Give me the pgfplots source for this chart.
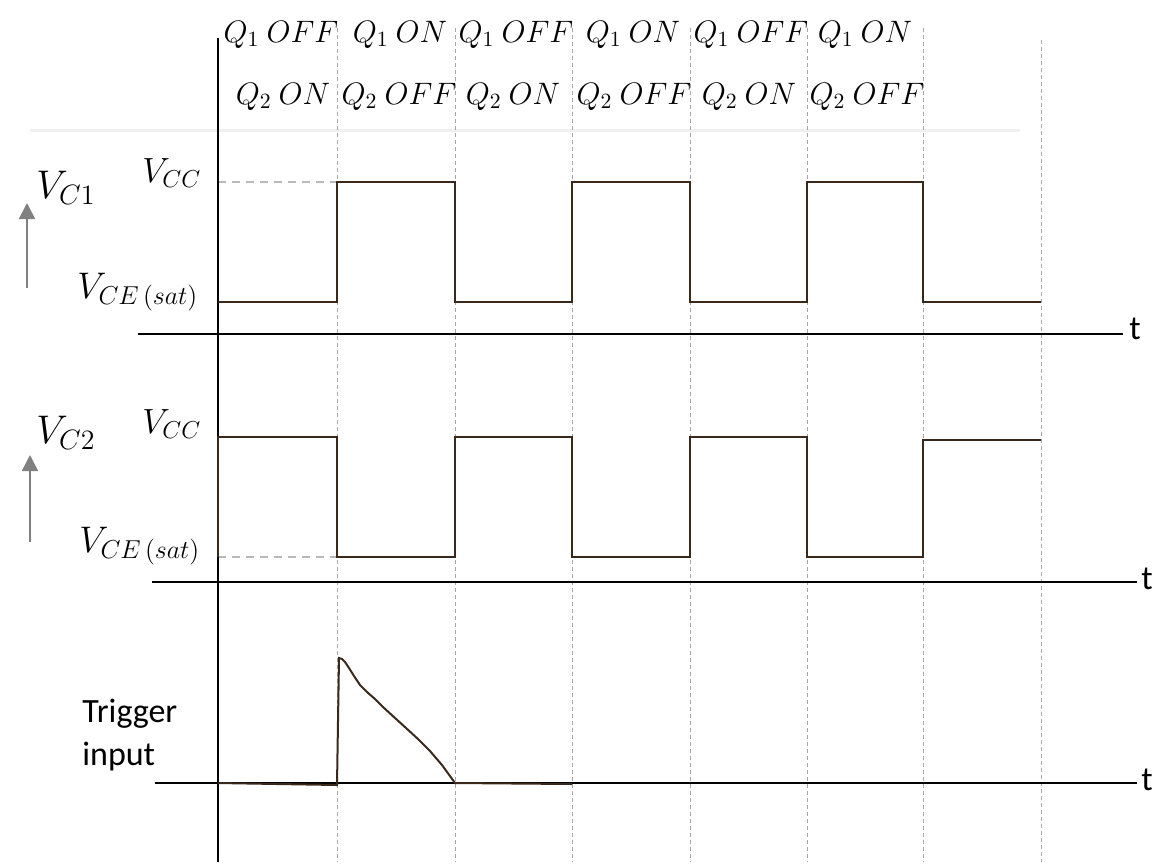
\RequirePackage{fix-cm}
\documentclass[border=0pt]{standalone}
\usepackage{fontspec}
\setmainfont{Carlito}
\usepackage{pgfplots}
\pgfplotsset{compat=1.18}
\usetikzlibrary{arrows.meta}
\definecolor{sig}{RGB}{58,40,26}
\begin{document}
\begin{tikzpicture}
\begin{axis}[scale only axis, width=579.5pt, height=433.5pt,
  xmin=0, xmax=1159, ymin=0, ymax=867, y dir=reverse, hide axis, clip=false]
\addplot[draw=none] coordinates {(0,0) (1159,867)};
% faint separator
\addplot[gray!12, line width=1.5pt] coordinates {(30,130) (1020,130)};
% dashed time markers
\addplot[gray!70, line width=0.5pt, dash pattern=on 2pt off 1.5pt] coordinates {(337,28) (337,862)};
\addplot[gray!70, line width=0.5pt, dash pattern=on 2pt off 1.5pt] coordinates {(455,28) (455,862)};
\addplot[gray!70, line width=0.5pt, dash pattern=on 2pt off 1.5pt] coordinates {(572,28) (572,862)};
\addplot[gray!70, line width=0.5pt, dash pattern=on 2pt off 1.5pt] coordinates {(690,28) (690,862)};
\addplot[gray!70, line width=0.5pt, dash pattern=on 2pt off 1.5pt] coordinates {(807,28) (807,862)};
\addplot[gray!70, line width=0.5pt, dash pattern=on 2pt off 1.5pt] coordinates {(923,28) (923,862)};
\addplot[gray!70, line width=0.5pt, dash pattern=on 2pt off 1.5pt] coordinates {(1041,40) (1041,862)};
% level guides
\addplot[gray!55, line width=0.7pt, dash pattern=on 4pt off 3pt] coordinates {(218,182) (337,182)};
\addplot[gray!55, line width=0.7pt, dash pattern=on 4pt off 3pt] coordinates {(218,557) (337,557)};
% axes
\addplot[black, line width=1.4pt] coordinates {(218,38) (218,862)};
\addplot[black, line width=0.9pt] coordinates {(138,334) (1123,334)};
\addplot[black, line width=0.9pt] coordinates {(152,582) (1137,582)};
\addplot[black, line width=0.9pt] coordinates {(155,783) (1137,783)};
% V_C1
\addplot[sig, line width=1pt] coordinates {(218,302) (337,302) (337,182) (455,182) (455,302) (572,302) (572,182) (690,182) (690,302) (807,302) (807,182) (923,182) (923,302) (1041,302)};
% V_C2
\addplot[sig, line width=1pt] coordinates {(218,557) (218,437) (337,437) (337,557) (455,557) (455,437) (572,437) (572,557) (690,557) (690,437) (807,437) (807,557) (923,557) (923,440) (1041,440)};
% trigger
\addplot[sig, line width=1pt] coordinates {(218,783) (337,785) (339,658) (342,659) (345,662) (349,668) (354,676) (360,685) (367,692) (375,699) (383,707) (395,718) (406,728) (418,739) (430,751) (442,765) (455,783) (572,784)};
% arrows
\addplot[gray, line width=0.8pt, -{Triangle[length=8pt,width=8pt]}] coordinates {(27,288) (27,203)};
\addplot[gray, line width=0.8pt, -{Triangle[length=8pt,width=8pt]}] coordinates {(30,542) (30,455)};
% state labels
\begin{scope}[every node/.style={anchor=base, inner sep=0pt, font=\fontsize{15.5}{17}\selectfont}]
\node at (axis cs:281,42) {$Q_1\ OFF$};
\node at (axis cs:400,42) {$Q_1\ ON$};
\node at (axis cs:516,42) {$Q_1\ OFF$};
\node at (axis cs:633,42) {$Q_1\ ON$};
\node at (axis cs:751,42) {$Q_1\ OFF$};
\node at (axis cs:865,42) {$Q_1\ ON$};
\node at (axis cs:283,104) {$Q_2\ ON$};
\node at (axis cs:399,104) {$Q_2\ OFF$};
\node at (axis cs:513,104) {$Q_2\ ON$};
\node at (axis cs:634,104) {$Q_2\ OFF$};
\node at (axis cs:749,104) {$Q_2\ ON$};
\node at (axis cs:867,104) {$Q_2\ OFF$};
\end{scope}
% level labels
\node[anchor=base west, inner sep=0pt, font=\fontsize{20}{22}\selectfont] at (axis cs:36,198) {$V_{C1}$};
\node[anchor=base west, inner sep=0pt, font=\fontsize{20}{22}\selectfont] at (axis cs:36,443) {$V_{C2}$};
\node[anchor=base west, inner sep=0pt, font=\fontsize{17.5}{19}\selectfont] at (axis cs:142,182) {$V_{CC}$};
\node[anchor=base west, inner sep=0pt, font=\fontsize{17.5}{19}\selectfont] at (axis cs:142,433) {$V_{CC}$};
\node[anchor=base west, inner sep=0pt, font=\fontsize{18.5}{20}\selectfont] at (axis cs:77,298) {$V_{CE\,(sat)}$};
\node[anchor=base west, inner sep=0pt, font=\fontsize{18.5}{20}\selectfont] at (axis cs:79,552) {$V_{CE\,(sat)}$};
\node[anchor=base west, inner sep=0pt, font=\fontsize{17}{19}\selectfont] at (axis cs:82,722) {Trigger};
\node[anchor=base west, inner sep=0pt, font=\fontsize{17}{19}\selectfont] at (axis cs:82,765) {input};
\node[anchor=base west, inner sep=0pt, font=\fontsize{17}{19}\selectfont] at (axis cs:1129,339) {t};
\node[anchor=base west, inner sep=0pt, font=\fontsize{17}{19}\selectfont] at (axis cs:1141,589) {t};
\node[anchor=base west, inner sep=0pt, font=\fontsize{17}{19}\selectfont] at (axis cs:1141,790) {t};
\end{axis}
\end{tikzpicture}
\end{document}
